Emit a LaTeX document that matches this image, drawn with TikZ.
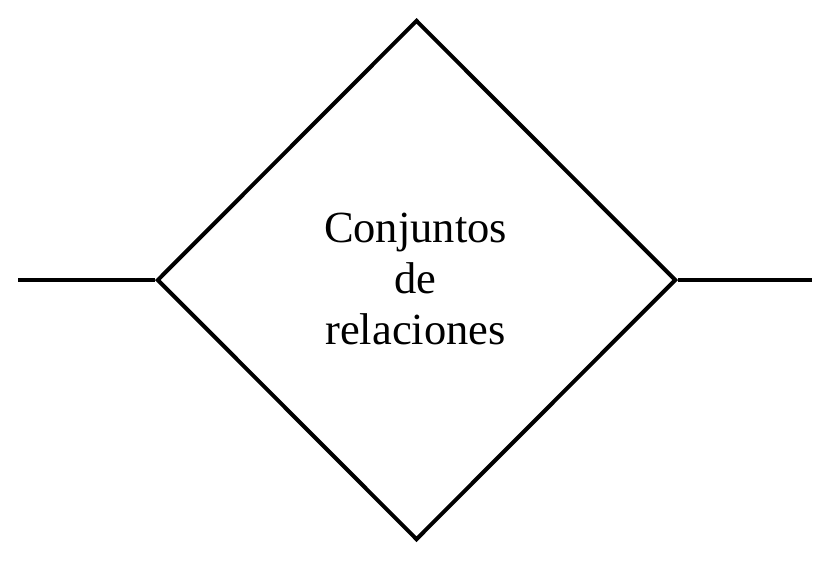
\documentclass[tikz,border=0pt]{standalone}
\usepackage{fontspec}
\setmainfont{Liberation Serif}
\usetikzlibrary{shapes.geometric}
\begin{document}
\begin{tikzpicture}[x=1pt,y=-1pt,
  rel/.style={diamond,draw=black,line width=4pt,minimum width=519pt,minimum height=520pt,inner sep=0pt,align=center},
  lbl/.style={align=center,inner sep=0pt,font=\fontsize{44.5}{51}\selectfont},
  conn/.style={draw=black,line width=4pt}]
\useasboundingbox (0,0) rectangle (830,563);
\node[rel] (d) at (416.5,280) {};
\node[lbl] (t) at (415.5,279) {Conjuntos\\de\\relaciones};
\coordinate (L) at (18,280);
\coordinate (R) at (812,280);
\draw[conn] (L) -- (d.west);
\draw[conn] (d.east) -- (R);
\end{tikzpicture}
\end{document}
